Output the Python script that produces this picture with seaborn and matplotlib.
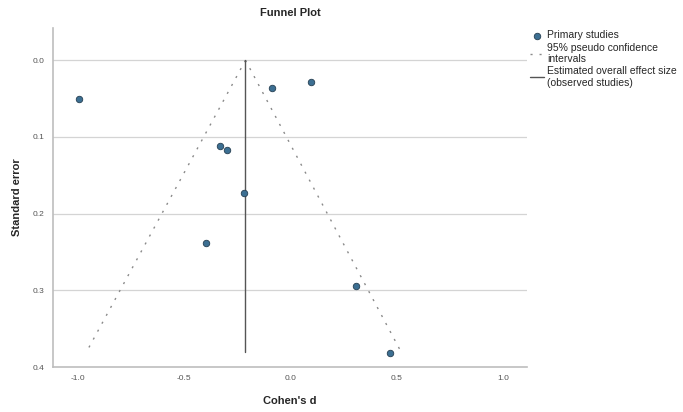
import numpy as np
import pandas as pd
import matplotlib
matplotlib.use("Agg")
import matplotlib.pyplot as plt
import seaborn as sns

# study effect sizes (Cohen's d) and their standard errors
cohens_d = [-0.995, -0.089, 0.094, -0.334, -0.30, -0.221, -0.40, 0.306, 0.47]
std_error = [0.050, 0.036, 0.029, 0.112, 0.117, 0.173, 0.238, 0.294, 0.381]

# overall effect and funnel limits
overall_d = -0.212
funnel_se = [0.0, 0.38]
funnel_left = [-0.212, -0.96]
funnel_right = [-0.212, 0.52]

x_ticks = [-1.0, -0.5, 0.0, 0.5, 1.0]
y_ticks = [0.0, 0.1, 0.2, 0.3, 0.4]

df = pd.DataFrame({"d": cohens_d, "se": std_error})

sns.set_style("white")
plt.rcParams['font.family'] = ['Liberation Sans', 'DejaVu Sans']

fig = plt.figure(figsize=(6.83, 4.12), dpi=100)
ax = fig.add_axes([0.0776, 0.109, 0.694, 0.823])

for yv in y_ticks[:-1]:
    ax.axhline(yv, color="#d4d4d4", lw=0.9, zorder=0)

ax.plot(funnel_left, funnel_se, color="#8a8a8a", lw=1.0, ls=(0, (1.5, 5)),
        label="95% pseudo confidence\nintervals")
ax.plot(funnel_right, funnel_se, color="#8a8a8a", lw=1.0, ls=(0, (1.5, 5)))
ax.plot([overall_d, overall_d], funnel_se, color="#555555", lw=1.0,
        label="Estimated overall effect size\n(observed studies)")

sns.scatterplot(data=df, x="d", y="se", ax=ax, color="#3c6f92", edgecolor="#263f52",
                s=22, linewidth=0.6, zorder=5, label="Primary studies")

ax.set_xlim(-1.118, 1.113)
ax.set_ylim(0.4, -0.042)
ax.set_xticks(x_ticks)
ax.set_yticks(y_ticks)
ax.set_xticklabels([f"{v:.1f}" for v in x_ticks])
ax.set_yticklabels([f"{v:.1f}" for v in y_ticks])
ax.tick_params(labelsize=6, colors="#555555", length=0, pad=6)

for s in ["top", "right"]:
    ax.spines[s].set_visible(False)
for s in ["left", "bottom"]:
    ax.spines[s].set_color("#bdbdbd")
    ax.spines[s].set_linewidth(1.2)

ax.set_title("Funnel Plot", fontsize=8, fontweight="bold", pad=9)
ax.set_xlabel("Cohen's d", fontsize=8, fontweight="bold", labelpad=10)
ax.set_ylabel("Standard error", fontsize=8, fontweight="bold", labelpad=8)

handles, labels = ax.get_legend_handles_labels()
order = [labels.index("Primary studies"),
         labels.index("95% pseudo confidence\nintervals"),
         labels.index("Estimated overall effect size\n(observed studies)")]
ax.legend([handles[i] for i in order], [labels[i] for i in order],
          loc="upper left", bbox_to_anchor=(0.997, 1.005), frameon=False,
          fontsize=7.5, handlelength=1.4, handletextpad=0.3, labelspacing=0.2,
          borderaxespad=0)

fig.savefig("out.png", dpi=100)
